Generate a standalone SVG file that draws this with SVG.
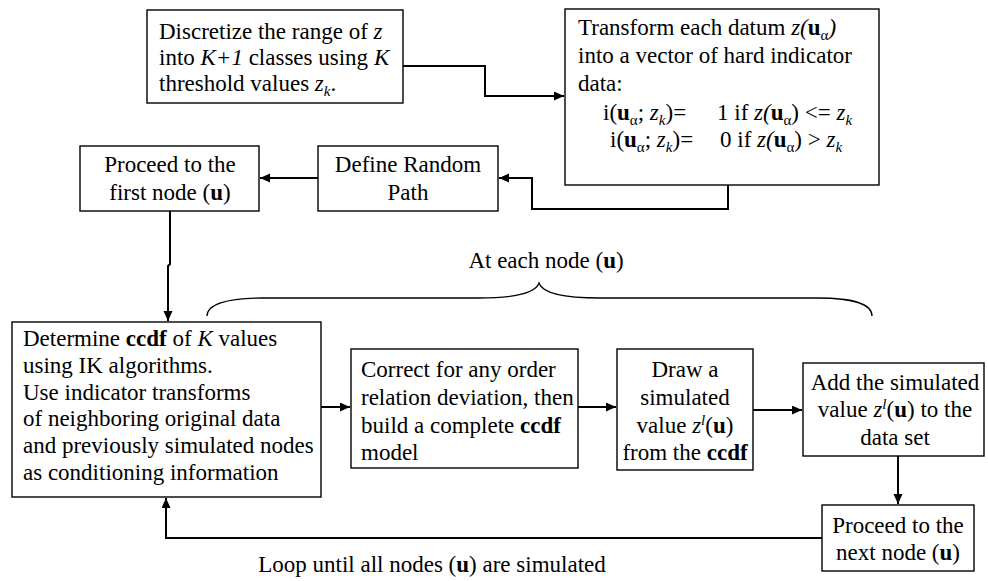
<svg xmlns="http://www.w3.org/2000/svg" width="988" height="581" viewBox="0 0 988 581">
<style>
.t{font-family:'Liberation Serif',Tinos,'Times New Roman',Times,'Nimbus Roman','DejaVu Serif',serif;font-size:23px;fill:#000}
.m{text-anchor:middle}
.i{font-style:italic}
.b{font-weight:bold}
.s{font-size:15px}
.box{fill:#fff;stroke:#000;stroke-width:1.4}
.c{fill:none;stroke:#000;stroke-width:2}
.br{fill:none;stroke:#000;stroke-width:1.3}
</style>
<defs>
<marker id="ah" markerUnits="userSpaceOnUse" markerWidth="11" markerHeight="10" refX="10" refY="4.5" orient="auto">
<path d="M0,0 L10,4.5 L0,9 z" fill="#000"/>
</marker>
</defs>
<g id="connectors">
<path class="c" d="M403,66 H485 V96 H564" marker-end="url(#ah)"/>
<path class="c" d="M728,185 V209 H532 V178 H499" marker-end="url(#ah)"/>
<path class="c" d="M318,178 H260" marker-end="url(#ah)"/>
<path class="c" d="M170,211 V264 L168,266 V321" marker-end="url(#ah)"/>
<path class="c" d="M321,407 H350" marker-end="url(#ah)"/>
<path class="c" d="M578,407 H616" marker-end="url(#ah)"/>
<path class="c" d="M753,410 H802" marker-end="url(#ah)"/>
<path class="c" d="M898,456 V504" marker-end="url(#ah)"/>
<path class="c" d="M822,538 H166 V498" marker-end="url(#ah)"/>
<path class="br" d="M207,316 C207,305 225,298 262,298 L478,298 C520,298 536,292 539,283 C542,292 558,298 600,298 L818,298 C855,298 872,305 872,316"/>
</g>
<g id="n-discretize">
<rect class="box" x="147" y="10" width="256" height="93"/>
<text class="t" x="159" y="39">Discretize the range of <tspan class="i">z</tspan></text>
<text class="t" x="159" y="65">into <tspan class="i">K+1</tspan> classes using <tspan class="i">K</tspan></text>
<text class="t" x="159" y="91">threshold values <tspan class="i">z</tspan><tspan class="i s" dy="5">k</tspan><tspan dy="-5">.</tspan></text>
</g>
<g id="n-transform">
<rect class="box" x="565" y="9" width="314" height="176"/>
<text class="t" x="578" y="35">Transform each datum <tspan class="i">z(</tspan><tspan class="b">u</tspan><tspan class="s" dy="5">α</tspan><tspan class="i" dy="-5">)</tspan></text>
<text class="t" x="578" y="63">into a vector of hard indicator</text>
<text class="t" x="578" y="91">data:</text>
<text class="t" x="603" y="120">i(<tspan class="b">u</tspan><tspan class="s" dy="5">α</tspan><tspan dy="-5">; </tspan><tspan class="i">z</tspan><tspan class="i s" dy="5">k</tspan><tspan dy="-5">)=</tspan></text>
<text class="t" x="717" y="120">1 if <tspan class="i">z(</tspan><tspan class="b">u</tspan><tspan class="s" dy="5">α</tspan><tspan dy="-5">) &lt;= </tspan><tspan class="i">z</tspan><tspan class="i s" dy="5">k</tspan></text>
<text class="t" x="610" y="147">i(<tspan class="b">u</tspan><tspan class="s" dy="5">α</tspan><tspan dy="-5">; </tspan><tspan class="i">z</tspan><tspan class="i s" dy="5">k</tspan><tspan dy="-5">)=</tspan></text>
<text class="t" x="720" y="147">0 if <tspan class="i">z(</tspan><tspan class="b">u</tspan><tspan class="s" dy="5">α</tspan><tspan dy="-5">) &gt; </tspan><tspan class="i">z</tspan><tspan class="i s" dy="5">k</tspan></text>
</g>
<g id="n-random-path">
<rect class="box" x="318" y="146" width="180" height="65"/>
<text class="t m" x="408" y="172">Define Random</text>
<text class="t m" x="408" y="200">Path</text>
</g>
<g id="n-first-node">
<rect class="box" x="80" y="146" width="179" height="65"/>
<text class="t m" x="170" y="172">Proceed to the</text>
<text class="t m" x="170" y="200">first node (<tspan class="b">u</tspan>)</text>
</g>
<g id="label-each">
<text class="t m" x="546" y="268">At each node (<tspan class="b">u</tspan>)</text>
</g>
<g id="n-ccdf">
<rect class="box" x="12" y="322" width="309" height="175"/>
<text class="t" x="23" y="346">Determine <tspan class="b">ccdf</tspan> of <tspan class="i">K</tspan> values</text>
<text class="t" x="23" y="373">using IK algorithms.</text>
<text class="t" x="23" y="400">Use indicator transforms</text>
<text class="t" x="23" y="426">of neighboring original data</text>
<text class="t" x="23" y="453">and previously simulated nodes</text>
<text class="t" x="23" y="480">as conditioning information</text>
</g>
<g id="n-correct">
<rect class="box" x="351" y="349" width="227" height="119"/>
<text class="t" x="361" y="377">Correct for any order</text>
<text class="t" x="361" y="405">relation deviation, then</text>
<text class="t" x="361" y="433">build a complete <tspan class="b">ccdf</tspan></text>
<text class="t" x="361" y="460">model</text>
</g>
<g id="n-draw">
<rect class="box" x="617" y="349" width="136" height="121"/>
<text class="t m" x="685" y="377">Draw a</text>
<text class="t m" x="685" y="405">simulated</text>
<text class="t m" x="685" y="433">value <tspan class="i">z</tspan><tspan class="i s" dy="-8">l</tspan><tspan dy="8">(</tspan><tspan class="b">u</tspan>)</text>
<text class="t m" x="685" y="460">from the <tspan class="b">ccdf</tspan></text>
</g>
<g id="n-add">
<rect class="box" x="803" y="363" width="181" height="93"/>
<text class="t m" x="895" y="390">Add the simulated</text>
<text class="t m" x="895" y="417">value <tspan class="i">z</tspan><tspan class="i s" dy="-8">l</tspan><tspan dy="8">(</tspan><tspan class="b">u</tspan>) to the</text>
<text class="t m" x="895" y="445">data set</text>
</g>
<g id="n-next">
<rect class="box" x="822" y="505" width="152" height="66"/>
<text class="t m" x="898" y="533">Proceed to the</text>
<text class="t m" x="898" y="560">next node (<tspan class="b">u</tspan>)</text>
</g>
<g id="label-loop">
<text class="t m" x="432" y="572">Loop until all nodes (<tspan class="b">u</tspan>) are simulated</text>
</g>
</svg>
